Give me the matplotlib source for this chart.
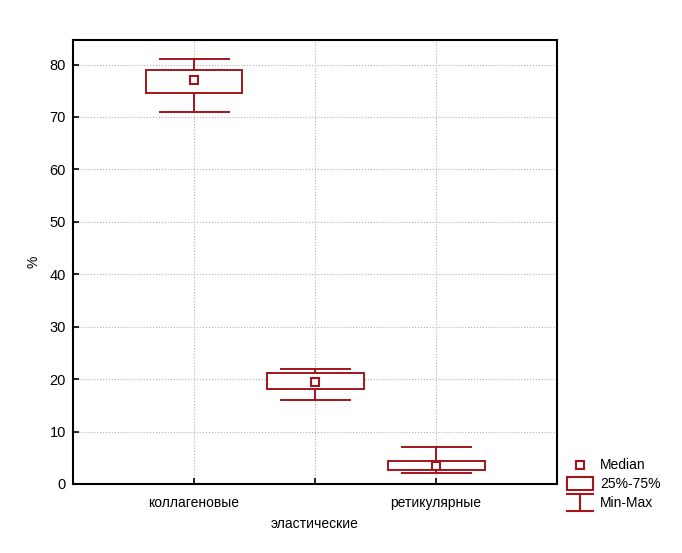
import matplotlib
matplotlib.use('Agg')
import matplotlib.pyplot as plt
from matplotlib.lines import Line2D
from matplotlib.patches import Rectangle

plt.rcParams['font.family'] = ['Liberation Sans', 'DejaVu Sans']

# данные (читаются с картинки)
categories = ['коллагеновые', 'эластические', 'ретикулярные']
mins = [71.0, 16.0, 2.1]
q1 = [74.6, 18.1, 2.7]
medians = [77.1, 19.5, 3.4]
q3 = [79.0, 21.2, 4.4]
maxs = [81.1, 21.9, 7.1]

color = '#A0161C'

fig = plt.figure(figsize=(6.82, 5.53), dpi=100)
ax = fig.add_axes([0.107, 0.1248, 0.71, 0.803])

box_w = 0.8
cap_w = 0.57
lw = 1.4
for i in range(len(categories)):
    # усы
    ax.plot([i, i], [mins[i], q1[i]], color=color, lw=lw)
    ax.plot([i, i], [q3[i], maxs[i]], color=color, lw=lw)
    ax.plot([i - cap_w / 2, i + cap_w / 2], [mins[i], mins[i]], color=color, lw=lw)
    ax.plot([i - cap_w / 2, i + cap_w / 2], [maxs[i], maxs[i]], color=color, lw=lw)
    # ящик
    ax.add_patch(Rectangle((i - box_w / 2, q1[i]), box_w, q3[i] - q1[i],
                           fill=True, facecolor='white', edgecolor=color, lw=lw, zorder=3))
    # медиана
    ax.plot(i, medians[i], marker='s', ms=6, mfc='white', mec=color, mew=1.5, zorder=4)

ax.set_xlim(-1, 3)
ax.set_ylim(0, 84.7)
ax.set_yticks(range(0, 81, 10))
ax.set_xticks(range(len(categories)))
labels = [c if i != 1 else '\n' + c for i, c in enumerate(categories)]
ax.set_xticklabels(labels, fontsize=10)
ax.get_xticklabels()[1].set_linespacing(1.6)
ax.tick_params(axis='y', labelsize=10.5, pad=5)
ax.tick_params(axis='x', pad=9)
ax.tick_params(direction='in', length=4, width=1.2)
ax.grid(True, linestyle=':', color='#b0b0b0', lw=0.8)
ax.set_axisbelow(True)
for s in ax.spines.values():
    s.set_linewidth(1.5)
ax.set_ylabel('%', fontsize=10)
ax.yaxis.set_label_coords(-0.068, 0.5)

# легенда справа внизу
W, H = 682, 553
def fx(x): return x / W
def fy(y): return 1 - y / H

fig.add_artist(Line2D([fx(580)], [fy(465)], marker='s', ms=6, mfc='white', mec=color,
                      mew=1.5, transform=fig.transFigure))
fig.text(fx(600), fy(465), 'Median', fontsize=10, va='center')
fig.add_artist(Rectangle((fx(567), fy(490)), fx(593) - fx(567), fy(477) - fy(490),
                         fill=False, edgecolor=color, lw=1.5, transform=fig.transFigure))
fig.text(fx(600), fy(484), '25%-75%', fontsize=10, va='center')
fig.add_artist(Line2D([fx(567), fx(593)], [fy(494), fy(494)], color=color, lw=1.5,
                      transform=fig.transFigure))
fig.add_artist(Line2D([fx(580), fx(580)], [fy(494), fy(511)], color=color, lw=1.5,
                      transform=fig.transFigure))
fig.add_artist(Line2D([fx(567), fx(593)], [fy(511), fy(511)], color=color, lw=1.5,
                      transform=fig.transFigure))
fig.text(fx(600), fy(503), 'Min-Max', fontsize=10, va='center')

fig.savefig('out.png', dpi=100)
